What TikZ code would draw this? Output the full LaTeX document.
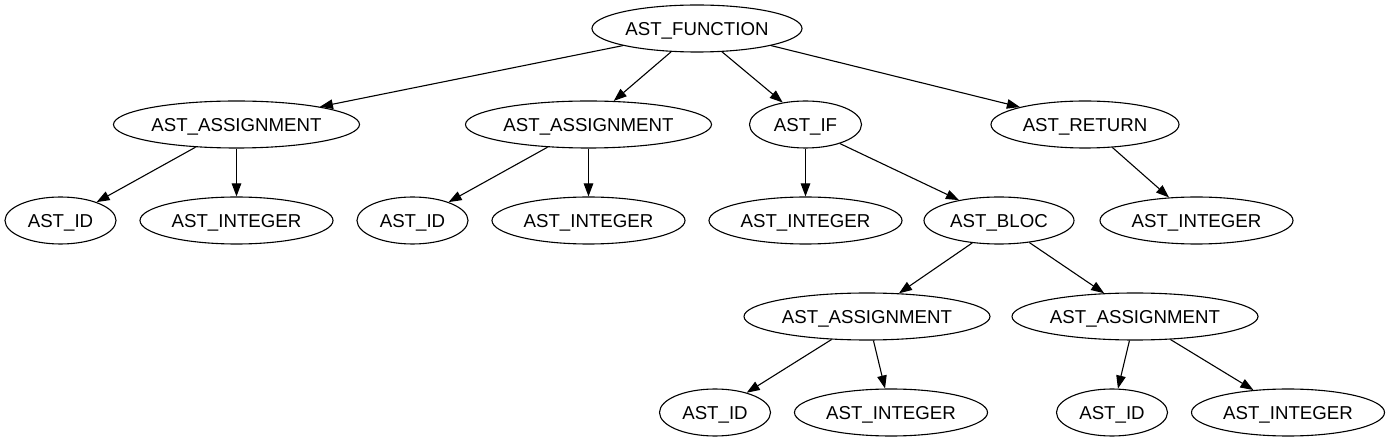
\documentclass[tikz,border=0pt]{standalone}
\usepackage{fontspec}
\setmainfont{Liberation Sans}
\usetikzlibrary{shapes.geometric,arrows.meta}
\begin{document}
\begin{tikzpicture}[x=1pt,y=-1pt,
  nd/.style={ellipse, draw, line width=1.1pt, inner sep=0pt, minimum height=47pt,
    font=\fontsize{18.67pt}{22pt}\selectfont, text height=13.4pt, text depth=0pt},
  edge/.style={-{Triangle[length=13pt,width=9.5pt]}, line width=1.1pt}]
\useasboundingbox (0,0) rectangle (1390,443);
% level 1
\node[nd, minimum width=210pt] (f) at (697,28.5) {AST\_FUNCTION};
% level 2
\node[nd, minimum width=246pt] (a1) at (236.5,124.5) {AST\_ASSIGNMENT};
\node[nd, minimum width=246pt] (a2) at (588.5,124.5) {AST\_ASSIGNMENT};
\node[nd, minimum width=112pt] (if) at (805.5,124.5) {AST\_IF};
\node[nd, minimum width=188pt] (ret) at (1085,124.5) {AST\_RETURN};
% level 3
\node[nd, minimum width=111pt] (id1) at (60.5,220.5) {AST\_ID};
\node[nd, minimum width=193pt] (int1) at (236.5,220.5) {AST\_INTEGER};
\node[nd, minimum width=111pt] (id2) at (412.5,220.5) {AST\_ID};
\node[nd, minimum width=193pt] (int2) at (588.5,220.5) {AST\_INTEGER};
\node[nd, minimum width=193pt] (int3) at (805.5,220.5) {AST\_INTEGER};
\node[nd, minimum width=150pt] (bloc) at (999,220.5) {AST\_BLOC};
\node[nd, minimum width=193pt] (int4) at (1196.5,220.5) {AST\_INTEGER};
% level 4
\node[nd, minimum width=246pt] (a3) at (867,316.5) {AST\_ASSIGNMENT};
\node[nd, minimum width=246pt] (a4) at (1135,316.5) {AST\_ASSIGNMENT};
% level 5
\node[nd, minimum width=111pt] (id3) at (715,412.5) {AST\_ID};
\node[nd, minimum width=193pt] (int5) at (891,412.5) {AST\_INTEGER};
\node[nd, minimum width=111pt] (id4) at (1112,412.5) {AST\_ID};
\node[nd, minimum width=193pt] (int6) at (1288,412.5) {AST\_INTEGER};
% edges
\draw[edge] (f.193) -- (a1.12);
\draw[edge] (f.222) -- (a2.43);
\draw[edge] (f.317) -- (if.136);
\draw[edge] (f.347) -- (ret.165);
\draw[edge] (a1.209) -- (id1.27);
\draw[edge] (a1.south) -- (int1.north);
\draw[edge] (a2.209) -- (id2.27);
\draw[edge] (a2.south) -- (int2.north);
\draw[edge] (if.south) -- (int3.north);
\draw[edge] (if.331) -- (bloc.153);
\draw[edge] (ret.320) -- (int4.140);
\draw[edge] (bloc.220) -- (a3.36);
\draw[edge] (bloc.324) -- (a4.143);
\draw[edge] (a3.213) -- (id3.32);
\draw[edge] (a3.285) -- (int5.104);
\draw[edge] (a4.257) -- (id4.76);
\draw[edge] (a4.327) -- (int6.147);
\end{tikzpicture}
\end{document}
